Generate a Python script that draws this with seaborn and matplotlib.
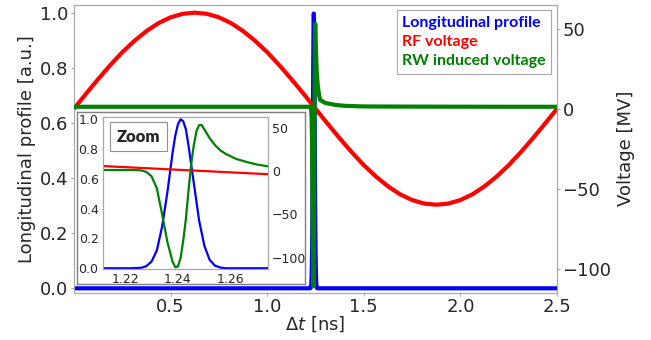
import matplotlib
matplotlib.use("Agg")
import matplotlib.pyplot as plt
import seaborn as sns
from matplotlib.lines import Line2D

# ---------------- data ----------------
# RF voltage [MV] vs time [ns]
t_rf = [0.0, 0.0625, 0.125, 0.1875, 0.25, 0.3125, 0.375, 0.4375, 0.5, 0.5625,
        0.625, 0.6875, 0.75, 0.8125, 0.875, 0.9375, 1.0, 1.0625, 1.125, 1.1875,
        1.25, 1.3125, 1.375, 1.4375, 1.5, 1.5625, 1.625, 1.6875, 1.75, 1.8125,
        1.875, 1.9375, 2.0, 2.0625, 2.125, 2.1875, 2.25, 2.3125, 2.375, 2.4375, 2.5]
v_rf = [0.0, 9.4, 18.5, 27.2, 35.3, 42.4, 48.5, 53.5, 57.1, 59.3,
        60.0, 59.3, 57.1, 53.5, 48.5, 42.4, 35.3, 27.2, 18.5, 9.4,
        0.0, -9.4, -18.5, -27.2, -35.3, -42.4, -48.5, -53.5, -57.1, -59.3,
        -60.0, -59.3, -57.1, -53.5, -48.5, -42.4, -35.3, -27.2, -18.5, -9.4, 0.0]

# Longitudinal profile [a.u.]
t_prof = [0.0, 1.20, 1.2115, 1.222, 1.226, 1.228, 1.230, 1.232, 1.234, 1.236,
          1.238, 1.239, 1.240, 1.241, 1.242, 1.243, 1.244, 1.246, 1.248, 1.250,
          1.252, 1.254, 1.256, 1.258, 1.262, 1.274, 1.30, 2.5]
prof = [0.0, 0.0, 0.0, 0.0, 0.003, 0.014, 0.045, 0.12, 0.28, 0.51,
        0.78, 0.89, 0.965, 0.998, 0.984, 0.93, 0.82, 0.57, 0.32, 0.15,
        0.056, 0.018, 0.005, 0.0, 0.0, 0.0, 0.0, 0.0]

# Resistive-wall induced voltage [MV]
t_rw = [0.0, 1.20, 1.2115, 1.222, 1.224, 1.226, 1.228, 1.230, 1.232, 1.234,
        1.236, 1.238, 1.239, 1.240, 1.241, 1.242, 1.243, 1.244, 1.245, 1.246,
        1.247, 1.248, 1.249, 1.250, 1.252, 1.254, 1.256, 1.258, 1.262, 1.266,
        1.270, 1.274, 1.30, 1.35, 1.40, 1.50, 1.75, 2.0, 2.25, 2.5]
v_rw = [1.2, 1.2, 1.2, 1.2, 1.1, 0.8, -1.0, -6.0, -20.0, -50.0,
        -82.0, -105.0, -111.0, -110.0, -100.0, -80.0, -55.0, -22.0, 8.0, 30.0,
        46.0, 53.0, 53.0, 48.0, 38.0, 30.0, 24.0, 20.0, 14.0, 10.5,
        7.5, 5.5, 3.6, 2.4, 1.8, 1.4, 1.3, 1.25, 1.2, 1.2]

x_ticks = [0.5, 1.0, 1.5, 2.0, 2.5]
inset_x_ticks = [1.22, 1.24, 1.26]
legend_labels = ["Longitudinal profile", "RF voltage", "RW induced voltage"]

# ---------------- style ----------------
sns.set_style("ticks")
plt.rcParams["font.family"] = ["DejaVu Sans"]

BLUE, RED, GREEN = "#0000ff", "#ff0000", "#008000"
SPINE = "#a8a8a8"

fig = plt.figure(figsize=(6.51, 3.40), dpi=100)
ax = fig.add_axes([0.1137, 0.1391, 0.7419, 0.8471])
ax2 = ax.twinx()

sns.lineplot(x=t_prof, y=prof, ax=ax, color=BLUE, lw=3, zorder=3)
sns.lineplot(x=t_rf, y=v_rf, ax=ax2, color=RED, lw=3, zorder=2)
sns.lineplot(x=t_rw, y=v_rw, ax=ax2, color=GREEN, lw=3, zorder=3)

ax.set_xlim(0, 2.5)
ax.set_ylim(-0.016, 1.03)
ax2.set_ylim(-115, 65)
ax.set_xticks(x_ticks)
ax.set_yticks([0.0, 0.2, 0.4, 0.6, 0.8, 1.0])
ax2.set_yticks([50, 0, -50, -100])
ax.set_xlabel(r"$\Delta t$ [ns]", fontsize=13, labelpad=-1)
ax.set_ylabel("Longitudinal profile [a.u.]", fontsize=13, labelpad=3)
ax2.set_ylabel("Voltage [MV]", fontsize=13, labelpad=4)
for a in (ax, ax2):
    a.tick_params(labelsize=13, length=2.5, color=SPINE, width=0.8, pad=1.5)
    for s in a.spines.values():
        s.set_color(SPINE)
        s.set_visible(True)

handles = [Line2D([], [], color=c) for c in (BLUE, RED, GREEN)]
leg = ax2.legend(handles, legend_labels, loc="upper right", handlelength=0,
                 handletextpad=0, fancybox=False, framealpha=1,
                 edgecolor=SPINE, borderaxespad=0.35, labelspacing=0.3,
                 borderpad=0.35,
                 prop={"family": "Lato", "weight": "bold", "size": 11.5})
for txt, c in zip(leg.get_texts(), (BLUE, RED, GREEN)):
    txt.set_color(c)
leg.get_frame().set_linewidth(0.8)

# ---------------- inset ----------------
box = fig.add_axes([0.1178, 0.1647, 0.3507, 0.5068])
box.set_xticks([]); box.set_yticks([])
box.set_facecolor("white")
for s in box.spines.values():
    s.set_color("#808080"); s.set_linewidth(1.0)

axi = fig.add_axes([0.1578, 0.2088, 0.2535, 0.4479])
axi2 = axi.twinx()
sns.lineplot(x=t_prof, y=prof, ax=axi, color=BLUE, lw=1.6)
sns.lineplot(x=t_rf, y=v_rf, ax=axi2, color=RED, lw=1.6)
sns.lineplot(x=t_rw, y=v_rw, ax=axi2, color=GREEN, lw=1.6)
axi.set_xlim(1.2115, 1.274)
axi.set_ylim(-0.005, 1.015)
axi2.set_ylim(-113, 62.7)
axi.set_xticks(inset_x_ticks)
axi.set_yticks([0.0, 0.2, 0.4, 0.6, 0.8, 1.0])
axi2.set_yticks([50, 0, -50, -100])
for a in (axi, axi2):
    a.tick_params(labelsize=9, length=1, color=SPINE, width=0.6, pad=2)
    a.set_xlabel(""); a.set_ylabel("")
    for s in a.spines.values():
        s.set_color(SPINE)
        s.set_visible(True)
axi.text(0.085, 0.87, "Zoom", transform=axi.transAxes, ha="left", va="center",
         fontfamily="Lato", fontweight="heavy", fontsize=12,
         bbox=dict(boxstyle="square,pad=0.4", fc="white", ec="#909090", lw=0.8))

fig.savefig("out.png", dpi=100)
